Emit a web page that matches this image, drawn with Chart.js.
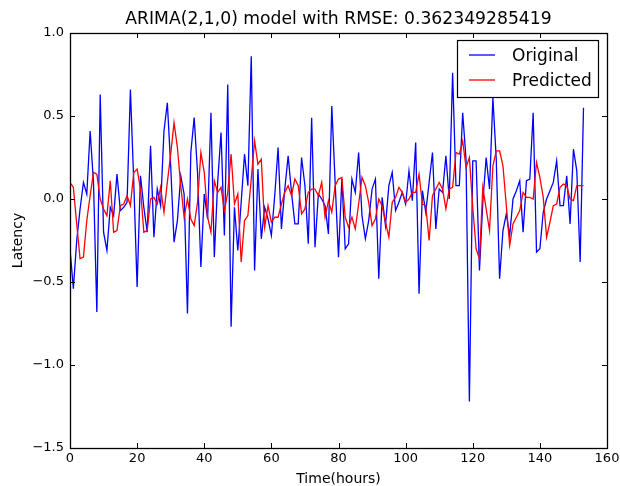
<!DOCTYPE html>
<html>
<head>
<meta charset="utf-8">
<script src="https://cdn.jsdelivr.net/npm/chart.js@4.4.0/dist/chart.umd.min.js"></script>
<style>
  html, body { margin: 0; padding: 0; background: #fff; }
  #wrap { width: 620px; height: 486px; }
</style>
</head>
<body>
<div id="wrap"><canvas id="arimaChart" width="620" height="486"></canvas></div>
<script>
// series, one value per hour
const original = [
  -0.30, -0.54, -0.25, -0.06, 0.10, 0.03, 0.41, 0.10, -0.68, 0.63,
  -0.20, -0.31, -0.05, -0.10, 0.15, -0.07, -0.05, -0.02, 0.66, 0.10,
  -0.53, 0.14, -0.05, -0.20, 0.32, -0.23, 0.06, -0.04, 0.41, 0.58,
  0.20, -0.26, -0.13, 0.14, 0.03, -0.69, 0.28, 0.49, 0.16, -0.41,
  0.03, -0.12, 0.52, -0.35, 0.10, 0.40, -0.22, 0.69, -0.77, -0.05,
  -0.31, -0.02, 0.27, 0.08, 0.86, -0.43, 0.18, -0.24, -0.05, -0.12,
  -0.22, 0.02, 0.31, -0.18, 0.06, 0.26, 0.04, -0.15, -0.15, 0.25,
  0.08, -0.27, 0.49, -0.29, 0.03, 0.00, -0.04, -0.21, 0.56, 0.10,
  -0.35, 0.12, -0.30, -0.27, 0.12, 0.04, 0.28, -0.10, -0.24, -0.13,
  0.06, 0.12, -0.48, 0.01, -0.16, 0.08, 0.16, -0.07, -0.02, 0.04,
  -0.03, 0.17, -0.01, 0.34, -0.57, 0.05, -0.08, 0.10, 0.28, -0.18,
  0.06, 0.04, 0.26, 0.00, 0.76, 0.08, 0.08, 0.52, 0.24, -1.22,
  0.23, 0.23, -0.43, -0.02, 0.25, 0.06, 0.61, 0.24, -0.48, -0.19,
  -0.09, -0.22, 0.00, 0.05, 0.11, -0.20, 0.11, 0.12, 0.52, -0.32,
  -0.30, -0.08, 0.00, 0.05, 0.10, 0.23, -0.04, -0.04, 0.14, -0.15,
  0.30, 0.17, -0.38, 0.55
];
const predicted = [
  0.10, 0.07, -0.15, -0.36, -0.35, -0.13, 0.02, 0.16, 0.15, 0.00,
  -0.06, -0.10, 0.11, -0.20, -0.19, -0.04, -0.03, 0.02, -0.04, 0.16,
  0.18, 0.06, -0.20, -0.19, 0.00, 0.01, -0.03, 0.07, -0.08, 0.10,
  0.27, 0.46, 0.31, 0.08, -0.11, 0.00, -0.12, -0.16, -0.02, 0.28,
  0.16, -0.11, -0.20, 0.11, 0.04, 0.07, -0.07, 0.04, 0.27, -0.03,
  0.03, -0.38, -0.13, -0.10, 0.12, 0.35, 0.21, 0.24, -0.17, -0.04,
  -0.14, -0.11, -0.11, -0.03, 0.04, 0.08, 0.02, 0.12, 0.08, -0.09,
  -0.06, 0.04, 0.06, 0.06, 0.02, 0.10, -0.11, -0.01, -0.08, 0.08,
  0.12, 0.13, -0.11, -0.17, -0.11, -0.18, -0.03, 0.13, 0.08, -0.02,
  -0.16, -0.12, 0.00, -0.04, -0.14, -0.23, -0.02, 0.01, 0.07, 0.04,
  -0.02, 0.00, 0.04, 0.04, 0.15, -0.03, -0.04, -0.25, 0.02, 0.06,
  0.10, 0.06, -0.06, 0.06, 0.07, 0.28, 0.27, 0.35, 0.19, 0.25,
  -0.05, -0.30, -0.36, 0.07, -0.06, -0.19, 0.20, 0.29, 0.29, 0.20,
  -0.04, -0.28, -0.15, -0.11, -0.07, 0.04, 0.01, 0.01, 0.00, 0.22,
  0.13, 0.01, -0.23, -0.14, -0.04, -0.03, 0.07, 0.09, 0.08, 0.00,
  -0.01, 0.08, 0.08, 0.08
];
const hours = original.map((_, i) => i);
const xTicks = [0, 20, 40, 60, 80, 100, 120, 140, 160];
const yTicks = [-1.5, -1.0, -0.5, 0.0, 0.5, 1.0];
const seriesNames = ['Original', 'Predicted'];
const chartTitle = 'ARIMA(2,1,0) model with RMSE: 0.362349285419';

const family = '"DejaVu Sans", "Liberation Sans", sans-serif';

// title centred over the plot area, like matplotlib does
const plotTitle = {
  id: 'plotTitle',
  afterDraw(chart) {
    const { ctx, chartArea: a } = chart;
    ctx.save();
    ctx.fillStyle = '#000';
    ctx.font = '17.2px ' + family;
    ctx.textAlign = 'center';
    ctx.textBaseline = 'middle';
    ctx.fillText(chartTitle, (a.left + a.right) / 2, 20);
    ctx.restore();
  }
};

// matplotlib-style box with inward ticks on all four sides
const frameTicks = {
  id: 'frameTicks',
  afterDatasetsDraw(chart) {
    const { ctx, chartArea: a, scales: { x, y } } = chart;
    ctx.save();
    ctx.strokeStyle = '#000';
    ctx.lineWidth = 1;
    ctx.beginPath();
    xTicks.forEach(t => {
      const px = Math.round(x.getPixelForValue(t)) + 0.5;
      ctx.moveTo(px, a.bottom); ctx.lineTo(px, a.bottom - 5);
      ctx.moveTo(px, a.top); ctx.lineTo(px, a.top + 5);
    });
    yTicks.forEach(t => {
      const py = Math.round(y.getPixelForValue(t)) + 0.5;
      ctx.moveTo(a.left, py); ctx.lineTo(a.left + 5, py);
      ctx.moveTo(a.right, py); ctx.lineTo(a.right - 5, py);
    });
    ctx.stroke();
    ctx.lineWidth = 1.3;
    ctx.strokeRect(Math.round(a.left) + 0.5, Math.round(a.top) + 0.5,
                   Math.round(a.width), Math.round(a.height));
    ctx.restore();
  }
};

// legend box in the upper right corner
const boxLegend = {
  id: 'boxLegend',
  afterDraw(chart) {
    const { ctx, chartArea: a } = chart;
    const bw = 141, bh = 57;
    const bx = Math.round(a.right) - 9 - bw, by = Math.round(a.top) + 7;
    ctx.save();
    ctx.fillStyle = '#fff';
    ctx.fillRect(bx, by, bw, bh);
    ctx.strokeStyle = '#000';
    ctx.lineWidth = 1.2;
    ctx.strokeRect(bx + 0.5, by + 0.5, bw, bh);
    ctx.font = '17px ' + family;
    ctx.textBaseline = 'middle';
    chart.data.datasets.forEach((ds, k) => {
      const ly = by + 15 + k * 25;
      ctx.strokeStyle = ds.borderColor;
      ctx.lineWidth = 1.3;
      ctx.beginPath();
      ctx.moveTo(bx + 12, ly); ctx.lineTo(bx + 38, ly);
      ctx.stroke();
      ctx.fillStyle = '#000';
      ctx.fillText(ds.label, bx + 55, ly + 1.5);
    });
    ctx.restore();
  }
};

const ctx = document.getElementById('arimaChart').getContext('2d');
new Chart(ctx, {
  type: 'line',
  data: {
    datasets: [
      {
        label: seriesNames[0],
        data: hours.map((h, i) => ({ x: h, y: original[i] })),
        borderColor: '#0000ff',
        borderWidth: 1.3,
        pointRadius: 0,
        fill: false,
        order: 1
      },
      {
        label: seriesNames[1],
        data: hours.map((h, i) => ({ x: h, y: predicted[i] })),
        borderColor: '#ff0000',
        borderWidth: 1.3,
        pointRadius: 0,
        fill: false,
        order: 0
      }
    ]
  },
  options: {
    responsive: false,
    animation: false,
    layout: { padding: { left: 0, right: 13, top: 33, bottom: 0 } },
    plugins: {
      legend: { display: false },
      tooltip: { enabled: false },
      title: { display: false }
    },
    scales: {
      x: {
        type: 'linear',
        min: 0,
        max: 160,
        afterBuildTicks: s => { s.ticks = xTicks.map(v => ({ value: v })); },
        afterFit: s => { s.height = 38; },
        grid: { display: false, drawTicks: false },
        border: { display: false },
        ticks: {
          padding: 0,
          color: '#000',
          maxRotation: 0,
          autoSkip: false,
          font: { family, size: 13, lineHeight: 1.65 },
          callback: v => String(v)
        },
        title: {
          display: true,
          text: 'Time(hours)',
          color: '#000',
          font: { family, size: 14, lineHeight: 1 },
          padding: { top: 0, bottom: 0 }
        }
      },
      y: {
        type: 'linear',
        min: -1.5,
        max: 1.0,
        afterBuildTicks: s => { s.ticks = yTicks.map(v => ({ value: v })); },
        afterFit: s => { s.width = 70; },
        grid: { display: false, drawTicks: false },
        border: { display: false },
        ticks: {
          padding: 6,
          color: '#000',
          font: { family, size: 13 },
          callback: v => v.toFixed(1).replace('-', '\u2212')
        },
        title: {
          display: true,
          text: 'Latency',
          color: '#000',
          font: { family, size: 14, lineHeight: 1 },
          padding: { top: 11, bottom: 0 }
        }
      }
    }
  },
  plugins: [frameTicks, boxLegend, plotTitle]
});
</script>
</body>
</html>
